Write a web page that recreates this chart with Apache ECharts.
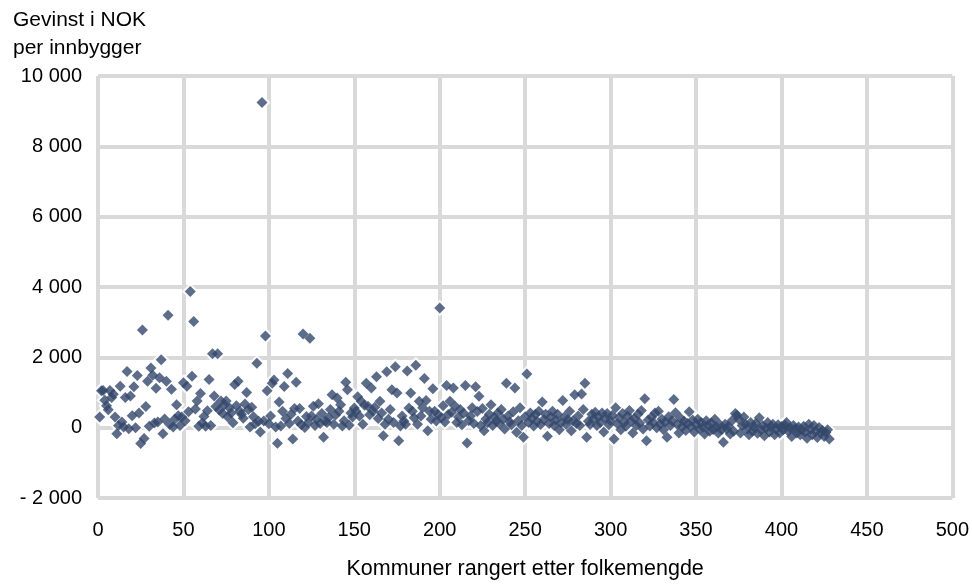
<!DOCTYPE html>
<html>
<head>
<meta charset="utf-8">
<script src="https://cdn.jsdelivr.net/npm/echarts@6/dist/echarts.min.js"></script>
<style>
html,body{margin:0;padding:0;background:#fff;}
#c{width:972px;height:585px;}
</style>
</head>
<body>
<div id="c"></div>
<script>
const yTitle = ['Gevinst i NOK', 'per innbygger'];
const xTitle = 'Kommuner rangert etter folkemengde';
const xTicks = [0, 50, 100, 150, 200, 250, 300, 350, 400, 450, 500];
const yTicks = [-2000, 0, 2000, 4000, 6000, 8000, 10000];

// Gain per inhabitant (NOK), ordered by municipality rank (1 = largest)
const gains = [
  300, 1050, 1060, 780, 620, 510, 1060, 860, 950, 300,
  -170, 60, 1180, 160, 20, 860, 1600, -30, 900, 340,
  1160, 0, 1480, 420, -450, 2780, -310, 600, 1320, 40,
  1700, 1490, 130, 1120, 160, 1420, 1930, -170, 250, 1320,
  3200, 90, 1090, 20, 250, 650, 340, 60, 300, 1280,
  200, 1180, 450, 3870, 1460, 3020, 530, 760, 40, 970,
  130, 320, 40, 480, 1370, 60, 2100, 900, 600, 2100,
  500, 760, 400, 650, 760, 300, 560, 420, 140, 1230,
  620, 1320, 470, 380, 270, 670, 1000, 520, 20, 580,
  310, 110, 1830, 180, -120, 9250, 190, 2610, 1050, 110,
  330, 1260, 1355, 20, -440, 730, 50, 470, 1170, 260,
  1540, 117, 380, -320, 545, 1290, 190, 545, 80, 2660,
  5, 320, 150, 2540, 330, 610, 60, 240, 680, 120,
  400, -275, 190, 145, 290, 520, 935, 100, 360, 845,
  470, 655, 50, 200, 1290, 1075, 70, 420, 300, 560,
  470, 880, 330, 750, 100, 640, 1260, 610, 370, 1125,
  470, 580, 1450, 260, 750, 420, -230, 100, 1590, 240,
  520, 1075, 150, 1730, 985, -370, 50, 330, 190, 100,
  1610, 560, 985, 470, 280, 1775, 100, 750, 330, 565,
  1400, 770, -90, 470, 240, 1105, 470, 190, 375, 3400,
  285, 620, 160, 1200, 375, 750, 440, 1125, 610, 150,
  300, 515, 80, 410, 1200, -435, 200, 330, 565, 120,
  1160, 460, 890, 60, 545, -90, 250, 140, 380, 655,
  60, 290, 180, 420, 110, 515, 250, -40, 1260, 330,
  160, 80, 450, 1125, -130, 200, 565, 60, -275, 310,
  1525, 150, 420, 260, 50, 380, 180, 470, 90, 730,
  230, 380, -245, 120, 300, 470, 60, 220, 380, -60,
  140, 770, 300, 90, 230, 470, -90, 200, 935, 120,
  330, 60, 955, 515, 1260, -275, 180, 90, 380, 250,
  440, 60, 300, 150, 420, -120, 260, 400, 80, 200,
  350, -320, 565, 110, 280, -60, 400, 150, 40, 330,
  490, 180, -150, 260, 60, 380, 130, 490, -40, 825,
  -370, 220, 50, 300, 150, 420, 0, 470, 100, 240,
  -60, 160, -275, 310, 60, 200, 800, 425, 90, -150,
  270, 30, 180, -80, 120, 455, 30, 220, -120, 90,
  240, -40, 150, 10, -180, 200, 60, -100, 130, -50,
  240, 20, -150, 80, -60, -415, 100, -40, 40, -180,
  200, -100, 405, 350, 240, -150, 60, 300, 100, -40,
  -200, 150, -100, 10, 120, -160, 280, -60, 60, -230,
  -20, 150, -120, 20, 100, -200, -40, 80, -150, 30,
  -60, 70, 145, -100, 0, -250, 60, -30, -150, 20,
  -200, -60, 40, -120, -300, 100, -50, -200, 60, -100,
  -280, 5, -150, -80, -250, -135, -60, -320
];

const points = gains.map((v, i) => [i + 1, v]);

function fmt(v) {
  const s = String(Math.abs(v)).replace(/\B(?=(\d{3})+(?!\d))/g, ' ');
  return v < 0 ? '- ' + s : s;
}

const FONT = 'Liberation Sans, Arial, sans-serif';
const chart = echarts.init(document.getElementById('c'), null, {renderer: 'canvas'});
chart.setOption({
  backgroundColor: '#ffffff',
  animation: false,
  title: {
    text: yTitle.join('\n'),
    left: 13, top: 6, padding: 0,
    textStyle: {fontFamily: FONT, fontSize: 21, fontWeight: 'normal', color: '#000', lineHeight: 28}
  },
  grid: {left: 98, right: 18.5, top: 76, bottom: 80},
  xAxis: {
    type: 'value', min: xTicks[0], max: xTicks[xTicks.length - 1], interval: 50,
    name: xTitle, nameLocation: 'middle', nameGap: 60,
    nameTextStyle: {fontFamily: FONT, fontSize: 21.5, color: '#000'},
    axisLine: {show: false}, axisTick: {show: false},
    axisLabel: {margin: 22, fontFamily: FONT, fontSize: 20, color: '#000'},
    splitLine: {show: true, lineStyle: {color: '#d9d9d9', width: 4}}
  },
  yAxis: {
    type: 'value', min: yTicks[0], max: yTicks[yTicks.length - 1], interval: 2000,
    axisLine: {show: false}, axisTick: {show: false},
    axisLabel: {margin: 16, fontFamily: FONT, fontSize: 20, color: '#000', formatter: fmt},
    splitLine: {show: true, lineStyle: {color: '#d9d9d9', width: 4}}
  },
  series: [
    {
      type: 'scatter', data: points, symbol: 'diamond', symbolSize: 17,
      itemStyle: {color: '#ffffff'}, silent: true, z: 1
    },
    {
      type: 'scatter', data: points, symbol: 'diamond', symbolSize: 11,
      itemStyle: {color: '#33476b'}, z: 2
    }
  ]
});
</script>
</body>
</html>
